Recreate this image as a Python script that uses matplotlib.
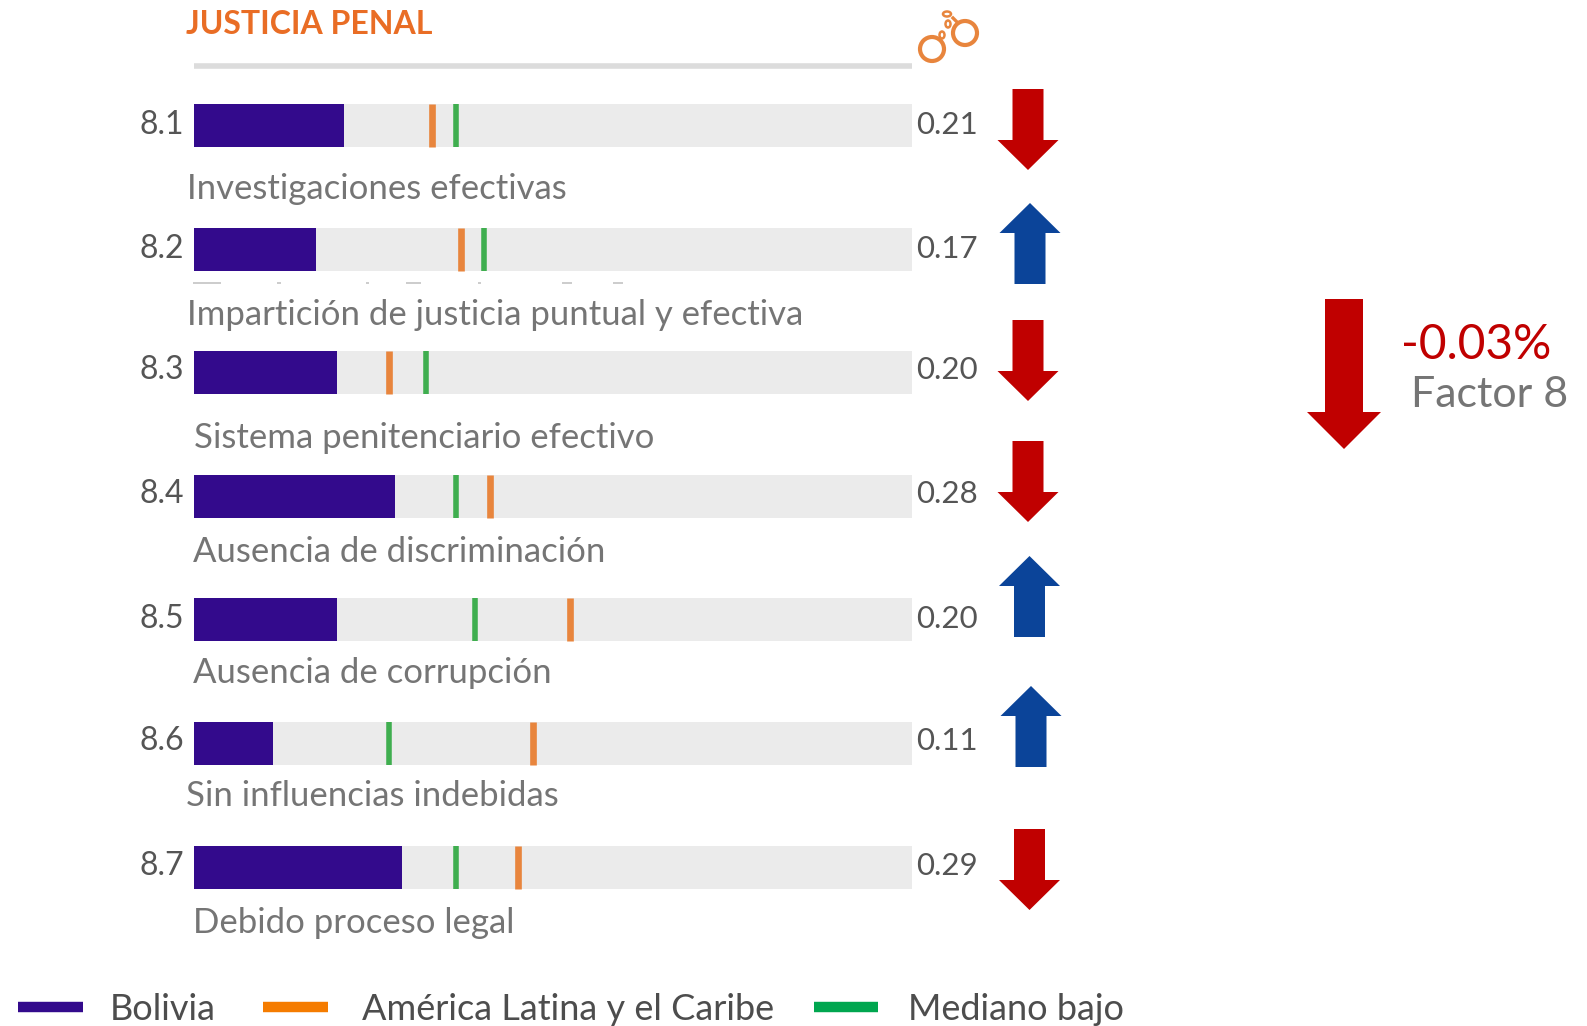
import matplotlib
matplotlib.use('Agg')
import matplotlib.pyplot as plt
from matplotlib.patches import Circle, Ellipse

plt.rcParams['font.family'] = ['Lato', 'DejaVu Sans']

# data
codes = ['8.1', '8.2', '8.3', '8.4', '8.5', '8.6', '8.7']
names = ['Investigaciones efectivas', 'Impartición de justicia puntual y efectiva',
         'Sistema penitenciario efectivo', 'Ausencia de discriminación',
         'Ausencia de corrupción', 'Sin influencias indebidas', 'Debido proceso legal']
bolivia = [0.21, 0.17, 0.20, 0.28, 0.20, 0.11, 0.29]
latam = [0.332, 0.372, 0.272, 0.413, 0.524, 0.472, 0.452]
mediano = [0.365, 0.404, 0.324, 0.365, 0.392, 0.272, 0.365]
changes = ['down', 'up', 'down', 'down', 'up', 'up', 'down']

# layout in pixels
W, H = 1587, 1026
row_y = [125.5, 249, 372.5, 496.5, 619.5, 743, 867]
num_base = [133.5, 257.5, 379, 503, 627.5, 750.5, 875]
label_x = [187, 187, 194, 193, 193, 186, 193]
label_base = [199, 325, 448, 562, 683, 806, 933]
arrow_x = [1028, 1030, 1028, 1028, 1029.5, 1031, 1029.5]
arrow_top = [89, 203, 320, 441, 556, 686, 829]

PURPLE = '#330a8c'
ORANGE = '#e8853d'
GREEN = '#3fae4f'
RED = '#c00000'
BLUE = '#0b4499'
GREY = '#757575'
DARK = '#555555'

fig = plt.figure(figsize=(W / 100, H / 100), dpi=100)

# pixel overlay for text, arrows and icon
bg = fig.add_axes([0, 0, 1, 1])
bg.set_xlim(0, W)
bg.set_ylim(H, 0)
bg.axis('off')

# bars: x is the score 0-1, y stays in pixels
ax = fig.add_axes([193.5 / W, 0, 718.5 / W, 1])
ax.set_xlim(0, 1)
ax.set_ylim(H, 0)
ax.axis('off')
ax.patch.set_alpha(0)

ax.barh(row_y, [1] * 7, height=43, color='#ebebeb')
ax.barh(row_y, bolivia, height=43, color=PURPLE)
ax.vlines(latam, [y - 21.5 for y in row_y], [y + 21.5 for y in row_y], color=ORANGE, lw=4.8)
ax.vlines(mediano, [y - 21.5 for y in row_y], [y + 21.5 for y in row_y], color=GREEN, lw=4)
ax.hlines(66, 0, 1, color='#dcdcdc', lw=4)


def arrow(x, top, kind, half_body=15.5, half_head=30.5, length=81, head=30):
    if kind == 'down':
        px = [x - half_body, x + half_body, x + half_body, x + half_head, x, x - half_head, x - half_body]
        py = [top, top, top + length - head, top + length - head, top + length, top + length - head, top + length - head]
        bg.fill(px, py, color=RED, lw=0)
    else:
        px = [x, x + half_head, x + half_body, x + half_body, x - half_body, x - half_body, x - half_head]
        py = [top, top + head, top + head, top + length, top + length, top + head, top + head]
        bg.fill(px, py, color=BLUE, lw=0)


for i in range(7):
    bg.text(184, num_base[i], codes[i], ha='right', va='baseline', fontsize=23, color=DARK)
    bg.text(916, num_base[i], '%.2f' % bolivia[i], ha='left', va='baseline', fontsize=22.5, color=DARK)
    bg.text(label_x[i], label_base[i], names[i], ha='left', va='baseline', fontsize=25, color=GREY)
    arrow(arrow_x[i], arrow_top[i], changes[i])

# scraps of the cut off line under 8.2
for x0, x1 in [(193, 221), (277, 281), (366, 369), (406, 421), (478, 481), (562, 572), (613, 623)]:
    bg.plot([x0, x1], [283, 283], color='#c4c4c4', lw=1.2, solid_capstyle='butt')

bg.text(186, 34, 'JUSTICIA PENAL', ha='left', va='baseline', fontsize=23,
        fontweight='bold', color='#e96d25')

# handcuffs
cuff = '#e8853d'
bg.add_patch(Circle((932, 49), 12, fill=False, ec=cuff, lw=3))
bg.add_patch(Circle((965, 33), 12, fill=False, ec=cuff, lw=3))
bg.add_patch(Ellipse((942, 35), 5, 7, fill=False, ec=cuff, lw=1.8))
bg.add_patch(Ellipse((948, 24), 5, 7, fill=False, ec=cuff, lw=1.8))
bg.add_patch(Ellipse((947, 14), 8, 5, fill=False, ec=cuff, lw=1.8))
bg.plot([953, 957], [18, 22], color=cuff, lw=2.4)

# factor total
arrow(1344, 299, 'down', half_body=19, half_head=37, length=150, head=37)
bg.text(1401, 359, '-0.03%', ha='left', va='baseline', fontsize=34.5, color=RED)
bg.text(1411, 407, 'Factor 8', ha='left', va='baseline', fontsize=31, color=GREY)

# legend
legend_names = ['Bolivia', 'América Latina y el Caribe', 'Mediano bajo']
legend_colors = [PURPLE, '#f57c00', '#00a64f']
legend_bar = [(18, 83), (263, 328), (814, 878)]
legend_text = [110, 362, 908]
for n, c, b, t in zip(legend_names, legend_colors, legend_bar, legend_text):
    bg.plot(b, [1007, 1007], color=c, lw=7.5, solid_capstyle='butt')
    bg.text(t, 1020, n, ha='left', va='baseline', fontsize=26, color='#4d4d4d')

fig.savefig('out.png', dpi=100, facecolor='white')
